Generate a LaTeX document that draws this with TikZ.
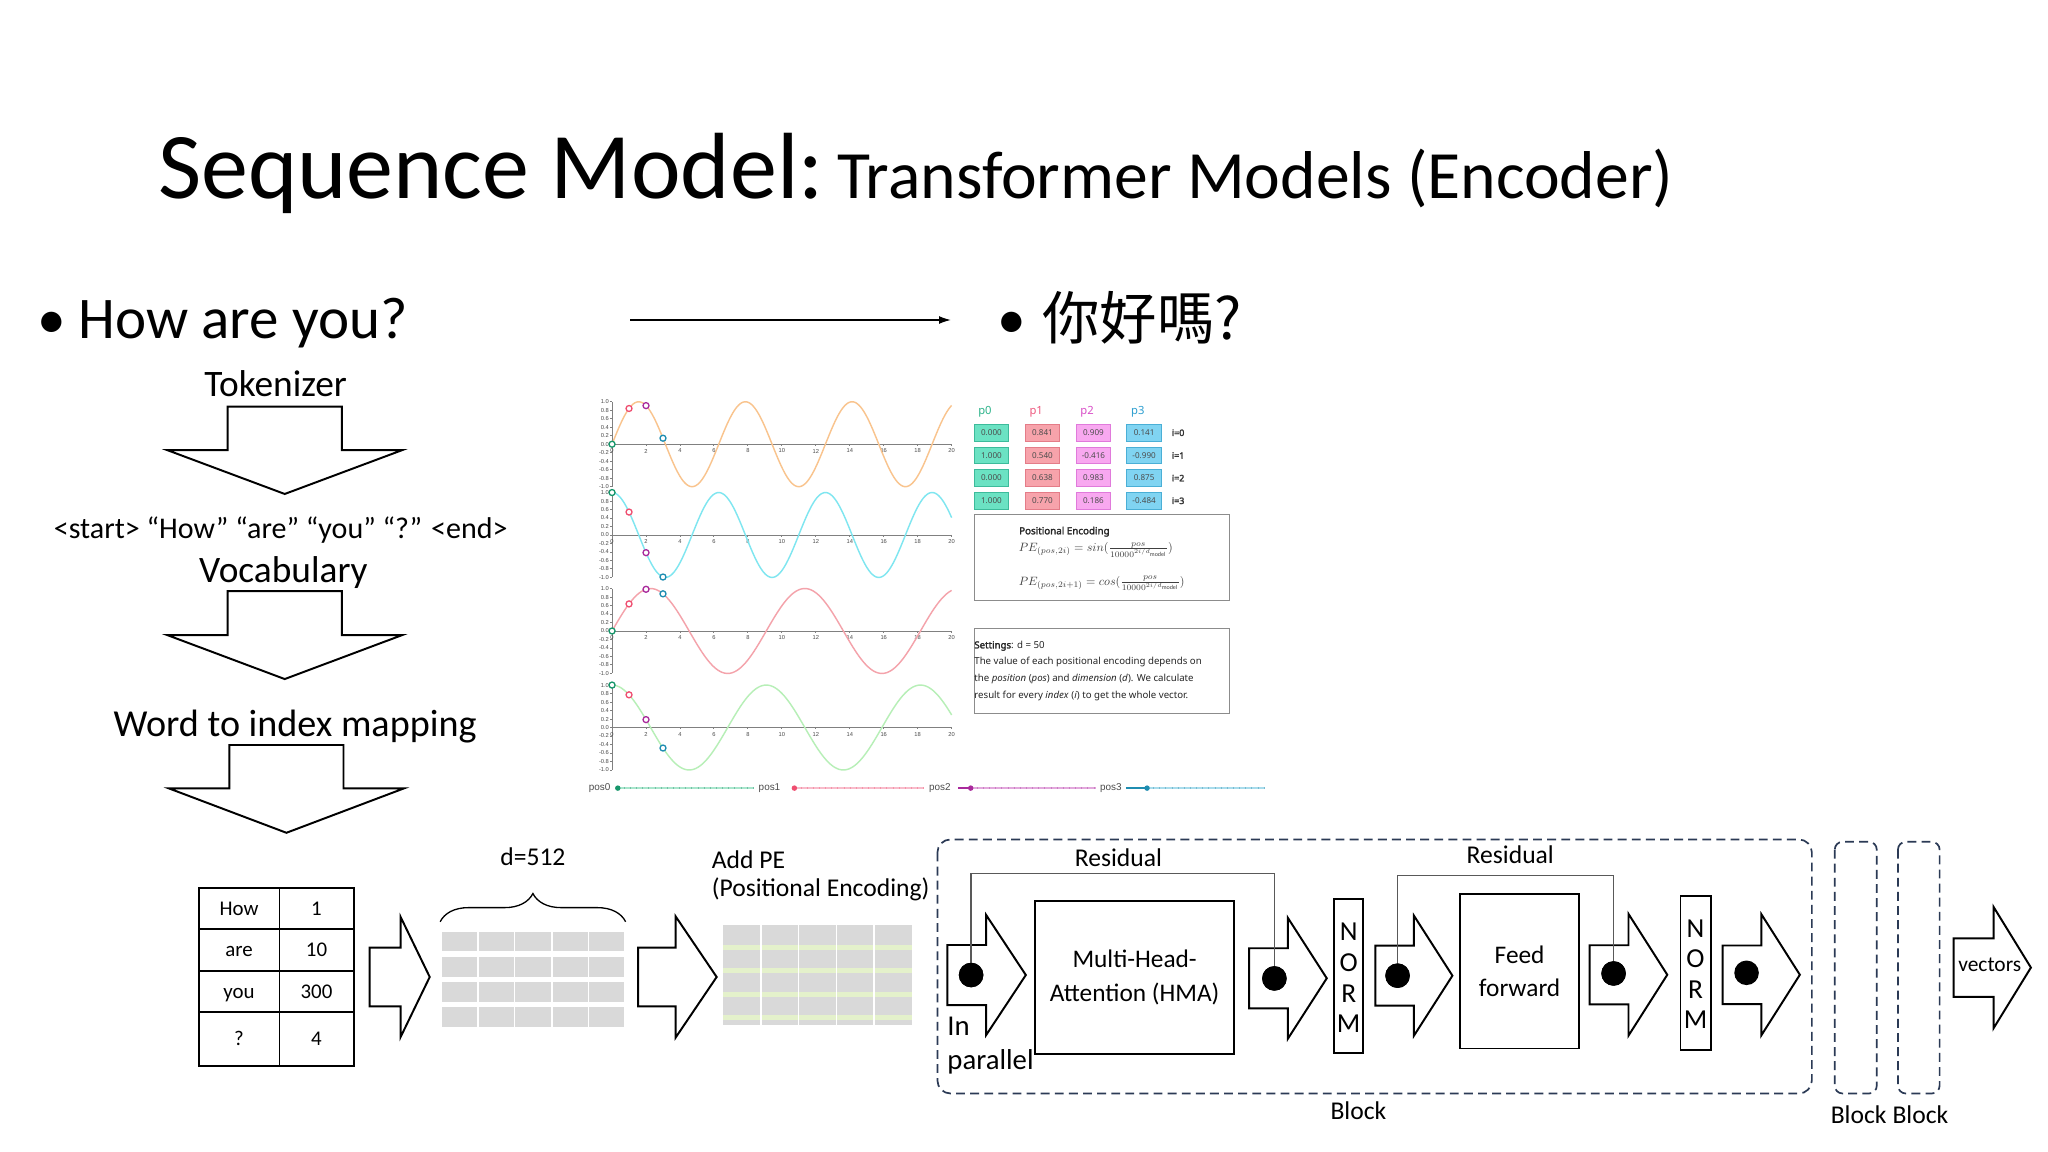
\documentclass[tikz,border=0pt]{standalone}
\usepackage{graphicx}
\usepackage{fontspec}
\setmainfont{Carlito}
\newfontfamily\cjkfont{Noto Sans CJK TC}
\newfontfamily\pefont{Noto Sans}
\newfontfamily\pefontb[FakeBold=2.2]{Noto Sans}
\newfontfamily\chartfont{Liberation Sans}
\usetikzlibrary{decorations.pathreplacing,arrows.meta}
\newcommand\fsz[1]{\fontsize{#1pt}{\dimexpr #1pt*12/10\relax}\selectfont}
\definecolor{navy}{HTML}{2B3A55}
\definecolor{cellgray}{HTML}{D9D9D9}
\definecolor{pestripe}{HTML}{E4F1CB}
\definecolor{curveA}{HTML}{F9C48E}
\definecolor{curveB}{HTML}{7FE6F0}
\definecolor{curveC}{HTML}{F4A3AB}
\definecolor{curveD}{HTML}{B7EFB7}
\definecolor{posA}{HTML}{17966B}
\definecolor{posB}{HTML}{EF4E70}
\definecolor{posC}{HTML}{A92A9C}
\definecolor{posD}{HTML}{1F8DB1}
\definecolor{slA}{HTML}{A8E6CC}
\definecolor{slB}{HTML}{F8BCCB}
\definecolor{slC}{HTML}{E2A8DC}
\definecolor{slD}{HTML}{A8DCEC}
\definecolor{cfA}{HTML}{6BE2C3}\definecolor{cbA}{HTML}{3DBB9B}
\definecolor{cfB}{HTML}{F7A3AB}\definecolor{cbB}{HTML}{E47C88}
\definecolor{cfC}{HTML}{F8A8F0}\definecolor{cbC}{HTML}{E07ADB}
\definecolor{cfD}{HTML}{80D4F2}\definecolor{cbD}{HTML}{4AAFD6}
\definecolor{hA}{HTML}{2CB38A}\definecolor{hB}{HTML}{EE5A80}
\definecolor{hC}{HTML}{D94FC8}\definecolor{hD}{HTML}{2E9FD0}
\newcommand\DArr[4]{\draw[barrow] (#1-43.7,#2) -- (#1+43.7,#2) -- (#1+43.7,#3) -- (#1+90,#3) -- (#1,#4) -- (#1-90,#3) -- (#1-43.7,#3) -- cycle;}
\newcommand\RArr[6]{\draw[barrow] (#1,#2-#5) -- (#3,#2-#5) -- (#3,#2-#6) -- (#4,#2) -- (#3,#2+#6) -- (#3,#2+#5) -- (#1,#2+#5) -- cycle;}
\begin{document}
\begin{tikzpicture}[x=0.5pt,y=-0.5pt,
 txt/.style={inner sep=0pt, outer sep=0pt},
 barrow/.style={draw=black, fill=white, line width=0.75pt, line join=miter},
 box/.style={draw=black, line width=0.75pt, fill=white, inner sep=0pt, align=center},
 dot/.style={circle, fill=black, inner sep=0pt, minimum size=9.4pt},
 resid/.style={draw=black!65, line width=0.5pt},
 dashbox/.style={draw=navy, line width=0.65pt, dash pattern=on 3.4pt off 2pt, rounded corners=5pt},
 axisl/.style={draw=black!50, line width=0.35pt},
 ticklbl/.style={inner sep=0pt, font=\chartfont\fontsize{2.2pt}{2.6pt}\selectfont, text=black!70},
 curve/.style={line width=0.55pt},
 mk/.style={circle, draw, fill=white, line width=0.5pt, inner sep=0pt, minimum size=2.3pt},
 pecell/.style={draw, inner sep=0pt, minimum width=13.25pt, minimum height=6.4pt, line width=0.35pt, font=\pefont\fontsize{3.1pt}{3.7pt}\selectfont, text=black!70},
 pehead/.style={txt, anchor=west, font=\pefont\fontsize{4.3pt}{5pt}\selectfont},
 ilbl/.style={txt, font=\pefontb\fontsize{3.4pt}{4pt}\selectfont, text=black!80},
 setl/.style={txt, anchor=west, font=\pefont\fontsize{3.7pt}{4.4pt}\selectfont, text=black!85},
 sltxt/.style={txt, anchor=west, font=\chartfont\fontsize{3.8pt}{4.4pt}\selectfont, text=black!70},
 tcell/.style={draw=black, line width=0.75pt, inner sep=0pt, font=\fsz{8}, text height=1.45ex, text depth=0.35ex},
 lbl/.style={txt, font=\fsz{9.8}},
 normtxt/.style={txt, font=\fsz{10.5}}
]
\useasboundingbox (0,0) rectangle (1568,882);
\fill[white] (0,0) rectangle (1568,882);

% ---------- title ----------
\node[txt, anchor=base west, font=\fsz{36}] (t1) at (121,152) {Sequence Model:};
\node[txt, anchor=base west, font=\fsz{25.9}] (t2) at (641,152) {Transformer Models (Encoder)};

% ---------- bullets ----------
\node[txt, anchor=base, font=\fsz{22}] (bu1) at (39.7,259) {•};
\node[txt, anchor=base west, font=\fsz{22.6}] (q1) at (60,259) {How are you?};
\coordinate (ar1) at (482.4,245);
\coordinate (ar2) at (728,245);
\draw[line width=0.5pt, -{Latex[length=4.5pt,width=3pt]}] (ar1) -- (ar2);
\node[txt, anchor=base, font=\fsz{22}] (bu2) at (774.3,259) {•};
\node[txt, anchor=base west, font=\cjkfont\fontsize{22pt}{26pt}\selectfont] (q2) at (798,260) {你好嗎?};

% ---------- left column ----------
\node[txt, anchor=base, font=\fsz{14.3}] (tok) at (211,303.7) {Tokenizer};
\DArr{218}{311.4}{344.6}{378.2}
\node[txt, anchor=base, font=\fsz{11.5}] (toks) at (215,412.2) {<start> “How” “are” “you” “?” <end>};
\node[txt, anchor=base, font=\fsz{14.3}] (voc) at (217,446.2) {Vocabulary};
\DArr{218}{452.5}{486.2}{519.9}
\node[txt, anchor=base, font=\fsz{14.6}] (w2i) at (226,564) {Word to index mapping};
\DArr{219.3}{570.4}{603.6}{637.6}

% ---------- sine charts ----------
\def\xo{468.6}
\def\xs{13}
\foreach \yo [count=\p] in {340.1,409.6,483.1,557} {
  \draw[axisl] (\xo,\yo-32.5) -- (\xo,\yo+32.5);
  \draw[axisl] (\xo,\yo) -- (\xo+260,\yo);
  \foreach \v/\l in {1/1.0,0.8/0.8,0.6/0.6,0.4/0.4,0.2/0.2,0/0.0,-0.2/-0.2,-0.4/-0.4,-0.6/-0.6,-0.8/-0.8,-1/-1.0} {
    \draw[axisl] (\xo-1.5,\yo-32.5*\v) -- (\xo,\yo-32.5*\v);
    \node[ticklbl, anchor=east] (yl\p) at (\xo-2,\yo-32.5*\v) {\l};
  }
  \foreach \k in {0,2,...,20} {
    \draw[axisl] (\xo+\xs*\k,\yo) -- (\xo+\xs*\k,\yo+1.5);
    \node[ticklbl] (xl\p) at (\xo+\xs*\k,\yo+5.2) {\k};
  }
}
\draw[curve, curveA] plot[domain=0:20, samples=240, smooth] ({\xo+\xs*\x},{340.1-32.5*sin(\x r)});
\draw[curve, curveB] plot[domain=0:20, samples=240, smooth] ({\xo+\xs*\x},{409.6-32.5*cos(\x r)});
\draw[curve, curveC] plot[domain=0:20, samples=240, smooth] ({\xo+\xs*\x},{483.1-32.5*sin((\x/1.44544) r)});
\draw[curve, curveD] plot[domain=0:20, samples=240, smooth] ({\xo+\xs*\x},{557-32.5*cos((\x/1.44544) r)});
\foreach \i/\c in {0/posA,1/posB,2/posC,3/posD} {
  \node[mk, draw=\c] (ma\i) at ({\xo+\xs*\i},{340.1-32.5*sin(\i r)}) {};
  \node[mk, draw=\c] (mb\i) at ({\xo+\xs*\i},{409.6-32.5*cos(\i r)}) {};
  \node[mk, draw=\c] (mc\i) at ({\xo+\xs*\i},{483.1-32.5*sin((\i/1.44544) r)}) {};
  \node[mk, draw=\c] (md\i) at ({\xo+\xs*\i},{557-32.5*cos((\i/1.44544) r)}) {};
}

% ---------- sliders ----------
\node[sltxt] (s0) at (450.9,603.4) {pos0};
\node[sltxt] (s1) at (580.9,603.4) {pos1};
\node[sltxt] (s2) at (711.4,603.4) {pos2};
\node[sltxt] (s3) at (842.3,603.4) {pos3};
\coordinate (sa0) at (473,603.4);   \coordinate (sb0) at (577.5,603.4);
\coordinate (sa1) at (608.2,603.4); \coordinate (sb1) at (707.3,603.4);
\coordinate (sa2) at (743.2,603.4); \coordinate (sb2) at (838.9,603.4);
\coordinate (sa3) at (878.2,603.4); \coordinate (sb3) at (968.8,603.4);
\coordinate (sc2) at (733.5,603.4); \coordinate (sc3) at (862,603.4);
\foreach \i/\l/\c in {0/slA/posA,1/slB/posB,2/slC/posC,3/slD/posD} {
  \draw[\l, line width=0.9pt] (sa\i) -- (sb\i);
  \draw[\c!60, line width=0.9pt, dash pattern=on 0.25pt off 2.1pt] (sa\i) -- (sb\i);
}
\draw[posC, line width=0.9pt] (sc2) -- (sa2);
\draw[posD, line width=0.9pt] (sc3) -- (sa3);
\foreach \i/\c in {0/posA,1/posB,2/posC,3/posD} {
  \fill[\c] (sa\i) circle (2.1);
}

% ---------- PE table ----------
\node[pehead, text=hA] (p0) at (749,315.2) {p0};
\node[pehead, text=hB] (p1) at (788.2,315.2) {p1};
\node[pehead, text=hC] (p2) at (827.2,315.2) {p2};
\node[pehead, text=hD] (p3) at (866,315.2) {p3};
\foreach \r/\y/\a/\b/\cc/\d in {0/331.3/0.000/0.841/0.909/0.141, 1/348.7/1.000/0.540/-0.416/-0.990, 2/366.0/0.000/0.638/0.983/0.875, 3/383.4/1.000/0.770/0.186/-0.484} {
  \node[pecell, fill=cfA, draw=cbA] (ca\r) at (759.05,\y) {\a};
  \node[pecell, fill=cfB, draw=cbB] (cb\r) at (798.15,\y) {\b};
  \node[pecell, fill=cfC, draw=cbC] (cc\r) at (837.15,\y) {\cc};
  \node[pecell, fill=cfD, draw=cbD] (cd\r) at (875.95,\y) {\d};
  \node[ilbl] (il\r) at (902,\y) {i=\r};
}
\draw[black!45, line width=0.45pt] (745.8,393.8) rectangle (941.3,459.5);
\node[txt, anchor=west, font=\pefontb\fontsize{3.75pt}{4.5pt}\selectfont, text=black!85] (pet) at (780.3,407.1) {Positional Encoding};
\node[txt, anchor=west, text=black!75] (pe1) at (780,421) {\resizebox{59pt}{!}{$PE_{(pos,2i)} = sin(\frac{pos}{10000^{2i/d_{\mathrm{model}}}})$}};
\node[txt, anchor=west, text=black!75] (pe2) at (780,446.6) {\resizebox{63.5pt}{!}{$PE_{(pos,2i+1)} = cos(\frac{pos}{10000^{2i/d_{\mathrm{model}}}})$}};
\draw[black!45, line width=0.45pt] (745.8,481) rectangle (941.3,546);
\node[setl] (st1) at (746,494.5) {{\pefontb Settings}: d = 50};
\node[setl] (st2) at (746,507) {The value of each positional encoding depends on};
\node[setl] (st3) at (746,520) {the \textit{position} (\textit{pos}) and \textit{dimension} (\textit{d}). We calculate};
\node[setl] (st4) at (746,532.5) {result for every \textit{index} (\textit{i}) to get the whole vector.};

% ---------- word/index table ----------
\foreach \y/\h/\w/\n [count=\r] in {695.75/31.1/How/1, 727.25/31.9/are/10, 758.9/31.4/you/300, 795.3/41.4/?/4} {
  \node[tcell, minimum width=31pt, minimum height=\h*0.5pt] (tw\r) at (183,\y) {\w};
  \node[tcell, minimum width=28.35pt, minimum height=\h*0.5pt] (ti\r) at (242.35,\y) {\n};
}

\RArr{283}{748}{306.7}{329}{22.5}{46}

% embedding grid
\foreach \ya/\yb in {713.4/728, 732.6/747.9, 752.2/767.5, 771/786.3} {
  \fill[cellgray] (338.3,\ya) rectangle (477.8,\yb);
}
\foreach \x in {366.1,393.9,422.5,450.7} {
  \draw[white, line width=0.6pt] (\x,712) -- (\x,788);
}
\coordinate (br1) at (337,705.7);
\coordinate (br2) at (479,705.7);
\draw[line width=0.5pt, decorate, decoration={brace, amplitude=10.8pt}] (br1) -- (br2);
\node[lbl] (d512) at (408,656) {d=512};

\RArr{488.5}{748}{517.2}{548.7}{22.5}{46.5}

% add PE grid
\fill[cellgray] (553.5,708.3) rectangle (698.3,784.8);
\foreach \ya/\yb in {723.6/727.4, 741/744.8, 759.8/763.6, 777.2/781} {
  \fill[pestripe] (553.5,\ya) rectangle (698.3,\yb);
}
\foreach \x in {582.5,611.4,640.4,669.3} {
  \draw[white, line width=0.6pt] (\x,708.3) -- (\x,784.8);
}
\node[lbl, anchor=west] (ape1) at (545,658) {Add PE};
\node[lbl, anchor=west] (ape2) at (545,681) {(Positional Encoding)};

% ---------- encoder block ----------
\draw[dashbox] (717.7,642.7) rectangle (1387.2,837.2);
\node[lbl] (blk0) at (1040,850.5) {Block};
\draw[dashbox, rounded corners=3pt] (1404.7,644.5) rectangle (1436.9,837.2);
\draw[dashbox, rounded corners=3pt] (1453.1,644.5) rectangle (1485,837.2);
\node[lbl] (blk1) at (1423,853.8) {Block};
\node[lbl] (blk2) at (1470.3,853.8) {Block};

\RArr{725.4}{746.5}{755}{785.4}{23}{46}
\node[txt, anchor=west, font=\fsz{11}] (inp) at (725.4,786) {In};
\node[txt, anchor=west, font=\fsz{11}] (par) at (725.4,813) {parallel};
\node[box, minimum width=76.2pt, minimum height=58.7pt, font=\fsz{9.7}] (mha) at (868.7,748.6) {Multi-Head-\\[1.5pt]Attention (HMA)};
\RArr{956.4}{749}{986}{1015.8}{23}{46.3}
\node[box, minimum width=11.25pt, minimum height=59pt] (n1) at (1032.6,747.5) {};
\foreach \ch/\y [count=\k] in {N/713.4,O/737.1,R/760.6,M/783.5} {
  \node[normtxt] (n1l\k) at (1032.6,\y) {\ch};
}
\RArr{1053}{747}{1082.5}{1112}{23}{46}
\node[box, minimum width=45.55pt, minimum height=59pt, font=\fsz{9.7}] (ff) at (1163.45,743.75) {Feed\\[1pt]forward};
\RArr{1217}{746.3}{1246.8}{1276.5}{22.6}{46.6}
\node[box, minimum width=11.5pt, minimum height=59.1pt] (n2) at (1298.1,744.9) {};
\foreach \ch/\y [count=\k] in {N/710.8,O/733.8,R/757.5,M/781} {
  \node[normtxt] (n2l\k) at (1298.1,\y) {\ch};
}
\RArr{1318.8}{746.3}{1348.5}{1378}{22.4}{46.4}
\RArr{1495.7}{740.8}{1526.4}{1554.9}{22.4}{46.3}
\node[txt, font=\fsz{8.2}] (vec) at (1523.4,739) {vectors};

% residual connections
\coordinate (rt1) at (860,668.7);
\coordinate (rt2) at (1150,670.5);
\node[dot] (dA) at (743.5,746.5) {};
\node[dot] (dB) at (975.7,749.1) {};
\node[dot] (dC) at (1070,747) {};
\node[dot] (dD) at (1235.4,745.3) {};
\node[dot] (dE) at (1337.2,744.8) {};
\draw[resid] (dA.center) |- (rt1) -| (dB.center);
\draw[resid] (dC.center) |- (rt2) -| (dD.center);
\node[dot] at (dA) {};
\node[dot] at (dB) {};
\node[dot] at (dC) {};
\node[dot] at (dD) {};
\node[lbl] (res1) at (856.3,656.4) {Residual};
\node[lbl] (res2) at (1156.3,654.7) {Residual};
\end{tikzpicture}
\end{document}
